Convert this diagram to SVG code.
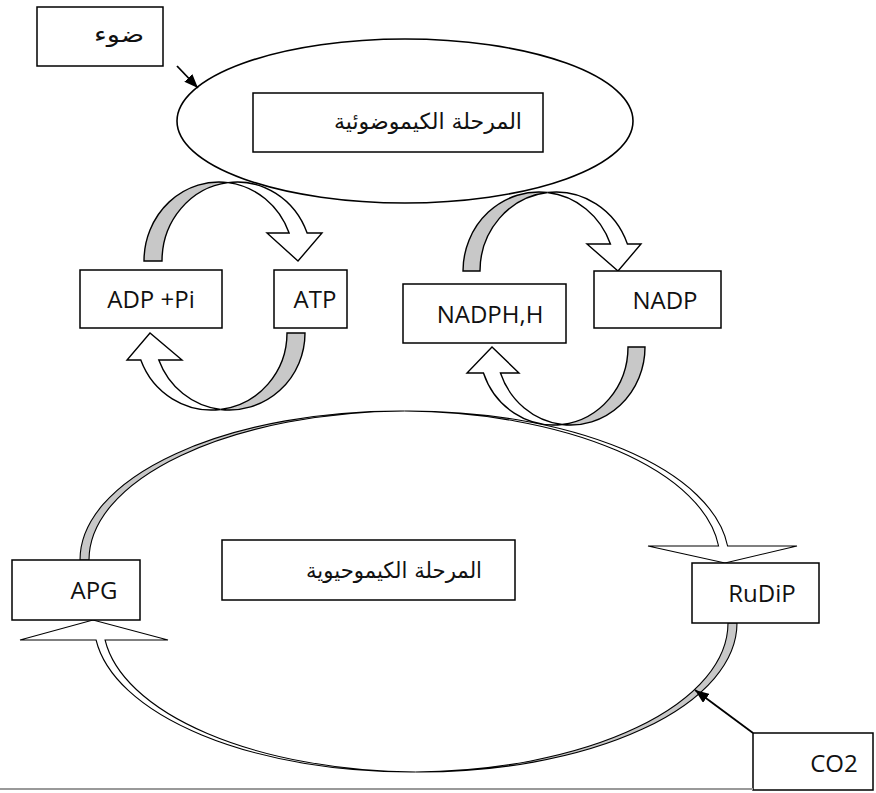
<svg xmlns="http://www.w3.org/2000/svg" width="876" height="793" viewBox="0 0 876 793">
<defs>
<marker id="ah" viewBox="0 0 14 11" markerWidth="14" markerHeight="11" refX="14" refY="5.5" orient="auto" markerUnits="userSpaceOnUse"><path d="M0,0 L14,5.5 L0,11 Z" fill="#000"/></marker>
</defs>
<style>
.box{fill:#fff;stroke:#000;stroke-width:1.5}
.lat{font-family:"Open Sans","Liberation Sans",sans-serif;font-size:24px;fill:#111;text-anchor:middle}
.ar{font-family:"DejaVu Sans",sans-serif;font-size:22px;fill:#111;text-anchor:middle}
.band{fill:#fff;stroke:#000;stroke-width:1.4;stroke-linejoin:miter}
.shade{fill:#c8c8c8;stroke:#000;stroke-width:1.4}
.thin{stroke-width:1.1}
.ln{stroke:#000;stroke-width:1.8;fill:none}
</style>
<rect width="876" height="793" fill="#fff"/>
<g id="connectors">
  <!-- ADP -> ATP -->
  <path class="shade" d="M144,261 A75,79 0 0 1 228,182.57 A75,79 0 0 0 162,261 Z"/>
  <path class="band" d="M228,182.57 A75,79 0 0 1 307.13,233 L322,233 L298,261 L267,233 L289.13,233 A75,79 0 0 0 228,182.57 Z"/>
  <!-- ATP -> ADP -->
  <path class="shade" d="M305,333 A75.5,77 0 0 1 220.5,409.45 A75.5,77 0 0 0 287,333 Z"/>
  <path class="band" d="M220.5,409.45 A75.5,77 0 0 1 140.8,360 L127,360 L150,333 L182,360 L158.8,360 A75.5,77 0 0 0 220.5,409.45 Z"/>
  <!-- NADPH -> NADP -->
  <path class="shade" d="M463,271 A76,79 0 0 1 547.5,192.5 A76,79 0 0 0 480,271 Z"/>
  <path class="band" d="M547.5,192.5 A76,79 0 0 1 627.42,244 L641,244 L618,271 L587,244 L610.42,244 A76,79 0 0 0 547.5,192.5 Z"/>
  <!-- NADP -> NADPH -->
  <path class="shade" d="M645,347 A74.4,78 0 0 1 562.1,424.5 A74.4,78 0 0 0 628,347 Z"/>
  <path class="band" d="M562.1,424.5 A74.4,78 0 0 1 483.46,373 L467,373 L492,347 L519,373 L500.46,373 A74.4,78 0 0 0 562.1,424.5 Z"/>
  <!-- APG -> RuDiP -->
  <path class="shade thin" d="M80,560 A320,149 0 0 1 404.5,411.01 A320,149 0 0 0 89,560 Z"/>
  <path class="band thin" d="M404.5,411.01 A320,149 0 0 1 727.59,546 L797,546 L725,563 L648,546 L718.59,546 A320,149 0 0 0 404.5,411.01 Z"/>
  <!-- RuDiP -> APG -->
  <path class="shade thin" d="M737,623 A317,149 0 0 1 415.5,771.99 A317,149 0 0 0 728,623 Z"/>
  <path class="band thin" d="M415.5,771.99 A317,149 0 0 1 96.07,640 L20,640 L93,620 L168,640 L105.07,640 A317,149 0 0 0 415.5,771.99 Z"/>
  <!-- light arrow -->
  <line class="ln" x1="177" y1="66" x2="198" y2="88" marker-end="url(#ah)"/>
  <!-- CO2 arrow -->
  <line class="ln" x1="753" y1="733" x2="695" y2="690" marker-end="url(#ah)"/>
</g>
<g id="phase-light">
  <ellipse cx="405" cy="121" rx="228" ry="82" fill="none" stroke="#000" stroke-width="1.6"/>
  <rect class="box" x="253" y="93" width="290" height="59"/>
  <text class="ar" x="428" y="129" textLength="188" lengthAdjust="spacingAndGlyphs">المرحلة الكيموضوئية</text>
</g>
<g id="light">
  <rect class="box" x="37" y="7" width="126" height="59"/>
  <text class="ar" x="119" y="42" textLength="50" lengthAdjust="spacingAndGlyphs">ضوء</text>
</g>
<g id="adp">
  <rect class="box" x="80" y="270" width="142" height="58"/>
  <text class="lat" x="151" y="308">ADP +Pi</text>
</g>
<g id="atp">
  <rect class="box" x="274" y="270" width="73" height="58"/>
  <text class="lat" x="315" y="308">ATP</text>
</g>
<g id="nadph">
  <rect class="box" x="403" y="284" width="163" height="59"/>
  <text class="lat" x="490" y="323">NADPH,H</text>
</g>
<g id="nadp">
  <rect class="box" x="594" y="271" width="127" height="57"/>
  <text class="lat" x="665" y="309">NADP</text>
</g>
<g id="phase-dark">
  <rect class="box" x="222" y="540" width="293" height="60"/>
  <text class="ar" x="394" y="578" textLength="176" lengthAdjust="spacingAndGlyphs">المرحلة الكيموحيوية</text>
</g>
<g id="apg">
  <rect class="box" x="12" y="560" width="128" height="60"/>
  <text class="lat" x="94" y="599">APG</text>
</g>
<g id="rudip">
  <rect class="box" x="692" y="563" width="127" height="60"/>
  <text class="lat" x="762" y="602">RuDiP</text>
</g>
<g id="co2">
  <rect class="box" x="753" y="733" width="120" height="57"/>
  <text class="lat" x="834" y="772">CO2</text>
</g>
<line x1="0" y1="789" x2="753" y2="789" stroke="#999" stroke-width="2"/>
</svg>
